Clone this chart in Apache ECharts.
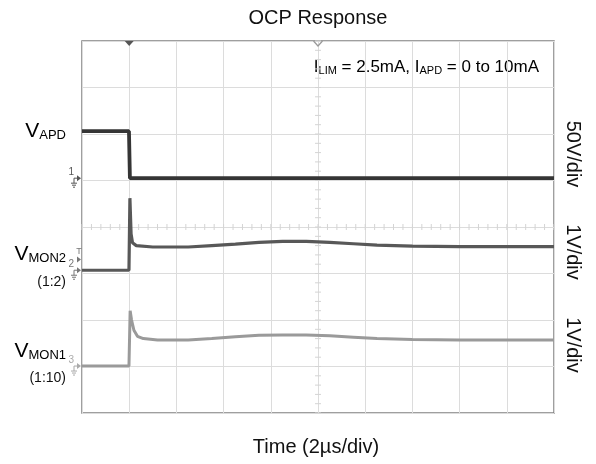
<!DOCTYPE html>
<html><head><meta charset="utf-8">
<script src="https://cdn.jsdelivr.net/npm/echarts@6/dist/echarts.min.js"></script>
<style>html,body{margin:0;padding:0;background:#fff}#c{width:596px;height:464px}</style>
</head><body><div id="c"></div>
<script>
// Time axis in µs (2 µs/div, 10 divisions); vertical axis in screen divisions (8 divisions)
const timeRange = [0, 20];
const timeStep = 2;
const divRange = [0, 8];
const divStep = 1;

// Traces: [time µs, vertical position in divisions]
const vapd = [[0,6.06],[1.99,6.06],[2.03,5.05],[20,5.05]];
const vmon2 = [[0,3.07],[1.99,3.07],[2.03,4.62],[2.08,3.85],[2.14,3.66],[2.3,3.6],[3,3.57],[4.5,3.57],[5.5,3.6],[6.5,3.63],[7.5,3.67],[8.5,3.69],[9.5,3.69],[10.5,3.67],[11.5,3.64],[12.5,3.61],[14,3.59],[16,3.58],[20,3.58]];
const vmon1 = [[0,1.01],[1.99,1.01],[2.04,2.2],[2.1,2.0],[2.2,1.78],[2.35,1.65],[2.6,1.6],[3.2,1.57],[4.5,1.57],[5.5,1.6],[6.5,1.64],[7.5,1.67],[8.5,1.68],[9.5,1.68],[10.5,1.66],[11.5,1.63],[12.5,1.6],[14,1.58],[16,1.57],[20,1.57]];

// Channel ground reference levels (div) and labels
const refLevels = [5.05, 3.07, 1.01];
const refLabels = ['1', '2', '3'];
const triggerLevel = 3.3;
const triggerTime = 2;
const centerTime = 10;
const centerDiv = 4;

const scaleLabels = ['50V/div', '1V/div', '1V/div'];

const FONT = 'Arial, "Liberation Sans", Helvetica, sans-serif';
const traceColors = ['#353535', '#585858', '#9a9a9a'];

const chart = echarts.init(document.getElementById('c'), null, {renderer: 'canvas'});

function centerTicks(params, api) {
  const ch = [];
  const yc = api.coord([0, centerDiv])[1];
  for (let i = 0; i <= 50; i++) {
    const t = timeRange[0] + i * (timeStep / 5);
    const x = api.coord([t, centerDiv])[0];
    ch.push({type: 'line', shape: {x1: x, y1: yc - 3, x2: x, y2: yc + 3}, style: {stroke: '#d4d4d4', lineWidth: 1}});
  }
  const xc = api.coord([centerTime, 0])[0];
  for (let i = 0; i <= 40; i++) {
    const d = divRange[0] + i * (divStep / 5);
    const y = api.coord([centerTime, d])[1];
    ch.push({type: 'line', shape: {x1: xc - 3, y1: y, x2: xc + 3, y2: y}, style: {stroke: '#d4d4d4', lineWidth: 1}});
  }
  return {type: 'group', children: ch};
}

function markers(params, api) {
  const ch = [];
  const markColors = ['#555', '#777', '#aaa'];
  refLevels.forEach((lv, i) => {
    const p = api.coord([timeRange[0], lv]);
    const x = p[0], y = p[1];
    ch.push({type: 'polygon', shape: {points: [[x - 5, y - 3], [x - 1, y], [x - 5, y + 3]]}, style: {fill: markColors[i]}});
    ch.push({type: 'line', shape: {x1: x - 8, y1: y, x2: x - 5, y2: y}, style: {stroke: markColors[i], lineWidth: 1}});
    ch.push({type: 'text', x: x - 8, y: y - 1, style: {text: refLabels[i], font: '10px ' + FONT, fill: markColors[i], align: 'right', verticalAlign: 'bottom'}});
    const gx = x - 8;
    ch.push({type: 'line', shape: {x1: gx, y1: y, x2: gx, y2: y + 5}, style: {stroke: markColors[i], lineWidth: 1}});
    ch.push({type: 'line', shape: {x1: gx - 3, y1: y + 5, x2: gx + 3, y2: y + 5}, style: {stroke: markColors[i], lineWidth: 1}});
    ch.push({type: 'line', shape: {x1: gx - 2, y1: y + 7, x2: gx + 2, y2: y + 7}, style: {stroke: markColors[i], lineWidth: 1}});
    ch.push({type: 'line', shape: {x1: gx - 1, y1: y + 9, x2: gx + 1, y2: y + 9}, style: {stroke: markColors[i], lineWidth: 1}});
  });
  // trigger level marker
  const tp = api.coord([timeRange[0], triggerLevel]);
  ch.push({type: 'polygon', shape: {points: [[tp[0] - 5, tp[1] - 3], [tp[0] - 1, tp[1]], [tp[0] - 5, tp[1] + 3]]}, style: {fill: '#777'}});
  ch.push({type: 'text', x: tp[0] - 3, y: tp[1] - 4, style: {text: 'T', font: '9px ' + FONT, fill: '#777', align: 'center', verticalAlign: 'bottom'}});
  // top markers
  const top = api.coord([triggerTime, divRange[1]]);
  ch.push({type: 'polygon', shape: {points: [[top[0] - 4.5, top[1]], [top[0] + 4.5, top[1]], [top[0], top[1] + 5]]}, style: {fill: '#555'}});
  const ctop = api.coord([centerTime, divRange[1]]);
  ch.push({type: 'polyline', shape: {points: [[ctop[0] - 4.5, ctop[1]], [ctop[0], ctop[1] + 5], [ctop[0] + 4.5, ctop[1]]]}, style: {stroke: '#999', lineWidth: 1.2, fill: null}});
  return {type: 'group', children: ch};
}

const mainRich = {
  m: {fontSize: 21, fontFamily: FONT, color: '#111', lineHeight: 26, verticalAlign: 'bottom'},
  s: {fontSize: 13, fontFamily: FONT, color: '#111', lineHeight: 13, verticalAlign: 'bottom'}
};

chart.setOption({
  animation: false,
  backgroundColor: '#fff',
  grid: {left: 82, right: 42, top: 41, bottom: 51, show: true, borderColor: '#808080', borderWidth: 1.5, backgroundColor: 'transparent'},
  xAxis: {type: 'value', min: timeRange[0], max: timeRange[1], interval: timeStep,
    axisLine: {show: false}, axisTick: {show: false}, axisLabel: {show: false},
    splitLine: {show: true, lineStyle: {color: '#dcdcdc', width: 1}}},
  yAxis: {type: 'value', min: divRange[0], max: divRange[1], interval: divStep,
    axisLine: {show: false}, axisTick: {show: false}, axisLabel: {show: false},
    splitLine: {show: true, lineStyle: {color: '#dcdcdc', width: 1}}},
  series: [
    {type: 'custom', renderItem: centerTicks, data: [[0, 0]], silent: true, z: 1},
    {type: 'line', name: 'VMON1', data: vmon1, showSymbol: false, lineStyle: {color: traceColors[2], width: 3}, z: 3},
    {type: 'line', name: 'VMON2', data: vmon2, showSymbol: false, lineStyle: {color: traceColors[1], width: 3.2}, z: 4},
    {type: 'line', name: 'VAPD', data: vapd, showSymbol: false, lineStyle: {color: traceColors[0], width: 3.8}, z: 5},
    {type: 'custom', renderItem: markers, data: [[0, 0]], silent: true, clip: false, z: 6}
  ],
  graphic: [
    {type: 'text', x: 318, y: 18, style: {text: 'OCP Response', font: '20px ' + FONT, fill: '#111', align: 'center', verticalAlign: 'middle'}},
    {type: 'text', x: 539, y: 66, style: {text: '{m|I}{s|LIM}{m| = 2.5mA, I}{s|APD}{m| = 0 to 10mA}', align: 'right', verticalAlign: 'middle',
      rich: {m: {fontSize: 17, fontFamily: FONT, color: '#111', lineHeight: 20, verticalAlign: 'bottom'}, s: {fontSize: 11, fontFamily: FONT, color: '#111', lineHeight: 11, verticalAlign: 'bottom'}}}},
    {type: 'text', x: 66, y: 129, style: {text: '{m|V}{s|APD}', align: 'right', verticalAlign: 'middle', rich: mainRich}},
    {type: 'text', x: 66, y: 252, style: {text: '{m|V}{s|MON2}', align: 'right', verticalAlign: 'middle', rich: mainRich}},
    {type: 'text', x: 66, y: 282, style: {text: '(1:2)', font: '14px ' + FONT, fill: '#111', align: 'right', verticalAlign: 'middle'}},
    {type: 'text', x: 66, y: 349, style: {text: '{m|V}{s|MON1}', align: 'right', verticalAlign: 'middle', rich: mainRich}},
    {type: 'text', x: 66, y: 378, style: {text: '(1:10)', font: '14px ' + FONT, fill: '#111', align: 'right', verticalAlign: 'middle'}},
    {type: 'text', x: 573, y: 154, rotation: -Math.PI / 2, style: {text: scaleLabels[0], font: '20px ' + FONT, fill: '#111', align: 'center', verticalAlign: 'middle'}},
    {type: 'text', x: 573, y: 252, rotation: -Math.PI / 2, style: {text: scaleLabels[1], font: '20px ' + FONT, fill: '#111', align: 'center', verticalAlign: 'middle'}},
    {type: 'text', x: 573, y: 345, rotation: -Math.PI / 2, style: {text: scaleLabels[2], font: '20px ' + FONT, fill: '#111', align: 'center', verticalAlign: 'middle'}},
    {type: 'text', x: 316, y: 447, style: {text: 'Time (2µs/div)', font: '20px ' + FONT, fill: '#111', align: 'center', verticalAlign: 'middle'}}
  ]
});
</script></body></html>
